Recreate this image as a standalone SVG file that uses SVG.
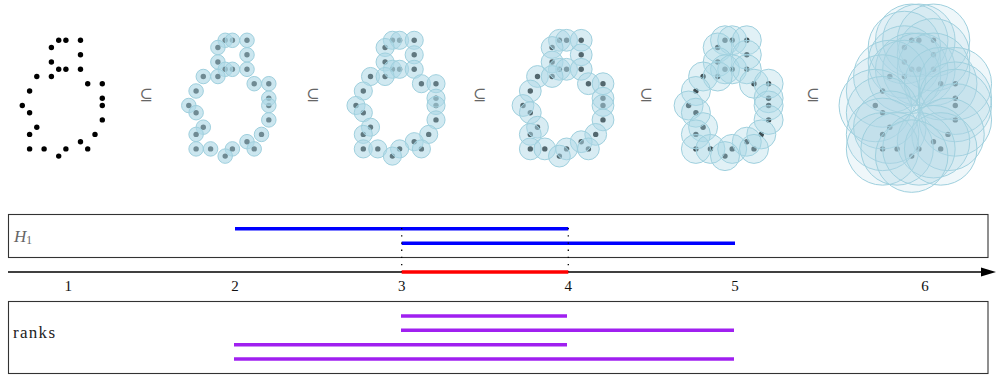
<svg xmlns="http://www.w3.org/2000/svg" xmlns:xlink="http://www.w3.org/1999/xlink" width="996" height="376" viewBox="0 0 996 376">
<style>
.b{fill:#add8e6;stroke:#9fd0de;stroke-width:1}
.p2 .b{fill-opacity:.64}
.p3 .b{fill-opacity:.56}
.p4 .b{fill-opacity:.48}
.p5 .b{fill-opacity:.36}
.p6 .b{fill-opacity:.2}
.sub{font-family:"DejaVu Serif","DejaVu Sans",serif;font-size:16px;fill:#666;text-anchor:middle}
.num{font-family:"Liberation Serif","DejaVu Serif",serif;font-size:15px;fill:#111;text-anchor:middle}
.lbl{font-family:"Liberation Serif","DejaVu Serif",serif}
.box{fill:none;stroke:#333;stroke-width:1.1}
.blue{stroke:#0000ff;stroke-width:3.4}
.pur{stroke:#a020f0;stroke-width:3.4}
</style>
<defs>
<g id="dots" fill="#000">
<circle cx="58.7" cy="40.3" r="2.7"/><circle cx="65.9" cy="40.3" r="2.7"/><circle cx="80.5" cy="40.3" r="2.7"/><circle cx="51.4" cy="47.5" r="2.7"/><circle cx="80.5" cy="54.8" r="2.7"/><circle cx="51.4" cy="62" r="2.7"/><circle cx="58.7" cy="69.3" r="2.7"/><circle cx="65.9" cy="69.3" r="2.7"/><circle cx="80.5" cy="69.3" r="2.7"/><circle cx="36.8" cy="76.5" r="2.7"/><circle cx="51.4" cy="76.5" r="2.7"/><circle cx="87.7" cy="83.7" r="2.7"/><circle cx="102.3" cy="83.7" r="2.7"/><circle cx="29.6" cy="91" r="2.7"/><circle cx="102.3" cy="98.2" r="2.7"/><circle cx="102.3" cy="105.5" r="2.7"/><circle cx="22.3" cy="105.5" r="2.7"/><circle cx="29.6" cy="112.7" r="2.7"/><circle cx="102.3" cy="119.9" r="2.7"/><circle cx="36.8" cy="127.2" r="2.7"/><circle cx="95" cy="134.4" r="2.7"/><circle cx="29.6" cy="134.4" r="2.7"/><circle cx="80.5" cy="141.7" r="2.7"/><circle cx="29.6" cy="148.9" r="2.7"/><circle cx="44.1" cy="148.9" r="2.7"/><circle cx="65.9" cy="148.9" r="2.7"/><circle cx="87.7" cy="148.9" r="2.7"/><circle cx="58.7" cy="156.1" r="2.7"/>
</g>
</defs>

<g id="panel1"><use xlink:href="#dots" href="#dots"/></g>

<g id="panel2" class="p2" transform="translate(166.5,0)">
<use xlink:href="#dots" href="#dots"/>
<circle class="b" cx="58.7" cy="40.3" r="7.25"/><circle class="b" cx="65.9" cy="40.3" r="7.25"/><circle class="b" cx="80.5" cy="40.3" r="7.25"/><circle class="b" cx="51.4" cy="47.5" r="7.25"/><circle class="b" cx="80.5" cy="54.8" r="7.25"/><circle class="b" cx="51.4" cy="62" r="7.25"/><circle class="b" cx="58.7" cy="69.3" r="7.25"/><circle class="b" cx="65.9" cy="69.3" r="7.25"/><circle class="b" cx="80.5" cy="69.3" r="7.25"/><circle class="b" cx="36.8" cy="76.5" r="7.25"/><circle class="b" cx="51.4" cy="76.5" r="7.25"/><circle class="b" cx="87.7" cy="83.7" r="7.25"/><circle class="b" cx="102.3" cy="83.7" r="7.25"/><circle class="b" cx="29.6" cy="91" r="7.25"/><circle class="b" cx="102.3" cy="98.2" r="7.25"/><circle class="b" cx="102.3" cy="105.5" r="7.25"/><circle class="b" cx="22.3" cy="105.5" r="7.25"/><circle class="b" cx="29.6" cy="112.7" r="7.25"/><circle class="b" cx="102.3" cy="119.9" r="7.25"/><circle class="b" cx="36.8" cy="127.2" r="7.25"/><circle class="b" cx="95" cy="134.4" r="7.25"/><circle class="b" cx="29.6" cy="134.4" r="7.25"/><circle class="b" cx="80.5" cy="141.7" r="7.25"/><circle class="b" cx="29.6" cy="148.9" r="7.25"/><circle class="b" cx="44.1" cy="148.9" r="7.25"/><circle class="b" cx="65.9" cy="148.9" r="7.25"/><circle class="b" cx="87.7" cy="148.9" r="7.25"/><circle class="b" cx="58.7" cy="156.1" r="7.25"/>
</g>

<g id="panel3" class="p3" transform="translate(333.7,0)">
<use xlink:href="#dots" href="#dots"/>
<circle class="b" cx="58.7" cy="40.3" r="9.06"/><circle class="b" cx="65.9" cy="40.3" r="9.06"/><circle class="b" cx="80.5" cy="40.3" r="9.06"/><circle class="b" cx="51.4" cy="47.5" r="9.06"/><circle class="b" cx="80.5" cy="54.8" r="9.06"/><circle class="b" cx="51.4" cy="62" r="9.06"/><circle class="b" cx="58.7" cy="69.3" r="9.06"/><circle class="b" cx="65.9" cy="69.3" r="9.06"/><circle class="b" cx="80.5" cy="69.3" r="9.06"/><circle class="b" cx="36.8" cy="76.5" r="9.06"/><circle class="b" cx="51.4" cy="76.5" r="9.06"/><circle class="b" cx="87.7" cy="83.7" r="9.06"/><circle class="b" cx="102.3" cy="83.7" r="9.06"/><circle class="b" cx="29.6" cy="91" r="9.06"/><circle class="b" cx="102.3" cy="98.2" r="9.06"/><circle class="b" cx="102.3" cy="105.5" r="9.06"/><circle class="b" cx="22.3" cy="105.5" r="9.06"/><circle class="b" cx="29.6" cy="112.7" r="9.06"/><circle class="b" cx="102.3" cy="119.9" r="9.06"/><circle class="b" cx="36.8" cy="127.2" r="9.06"/><circle class="b" cx="95" cy="134.4" r="9.06"/><circle class="b" cx="29.6" cy="134.4" r="9.06"/><circle class="b" cx="80.5" cy="141.7" r="9.06"/><circle class="b" cx="29.6" cy="148.9" r="9.06"/><circle class="b" cx="44.1" cy="148.9" r="9.06"/><circle class="b" cx="65.9" cy="148.9" r="9.06"/><circle class="b" cx="87.7" cy="148.9" r="9.06"/><circle class="b" cx="58.7" cy="156.1" r="9.06"/>
</g>

<g id="panel4" class="p4" transform="translate(500.7,0)">
<use xlink:href="#dots" href="#dots"/>
<circle class="b" cx="58.7" cy="40.3" r="10.9"/><circle class="b" cx="65.9" cy="40.3" r="10.9"/><circle class="b" cx="80.5" cy="40.3" r="10.9"/><circle class="b" cx="51.4" cy="47.5" r="10.9"/><circle class="b" cx="80.5" cy="54.8" r="10.9"/><circle class="b" cx="51.4" cy="62" r="10.9"/><circle class="b" cx="58.7" cy="69.3" r="10.9"/><circle class="b" cx="65.9" cy="69.3" r="10.9"/><circle class="b" cx="80.5" cy="69.3" r="10.9"/><circle class="b" cx="36.8" cy="76.5" r="10.9"/><circle class="b" cx="51.4" cy="76.5" r="10.9"/><circle class="b" cx="87.7" cy="83.7" r="10.9"/><circle class="b" cx="102.3" cy="83.7" r="10.9"/><circle class="b" cx="29.6" cy="91" r="10.9"/><circle class="b" cx="102.3" cy="98.2" r="10.9"/><circle class="b" cx="102.3" cy="105.5" r="10.9"/><circle class="b" cx="22.3" cy="105.5" r="10.9"/><circle class="b" cx="29.6" cy="112.7" r="10.9"/><circle class="b" cx="102.3" cy="119.9" r="10.9"/><circle class="b" cx="36.8" cy="127.2" r="10.9"/><circle class="b" cx="95" cy="134.4" r="10.9"/><circle class="b" cx="29.6" cy="134.4" r="10.9"/><circle class="b" cx="80.5" cy="141.7" r="10.9"/><circle class="b" cx="29.6" cy="148.9" r="10.9"/><circle class="b" cx="44.1" cy="148.9" r="10.9"/><circle class="b" cx="65.9" cy="148.9" r="10.9"/><circle class="b" cx="87.7" cy="148.9" r="10.9"/><circle class="b" cx="58.7" cy="156.1" r="10.9"/>
</g>

<g id="panel5" class="p5" transform="translate(666.3,0)">
<use xlink:href="#dots" href="#dots"/>
<circle class="b" cx="58.7" cy="40.3" r="14.5"/><circle class="b" cx="65.9" cy="40.3" r="14.5"/><circle class="b" cx="80.5" cy="40.3" r="14.5"/><circle class="b" cx="51.4" cy="47.5" r="14.5"/><circle class="b" cx="80.5" cy="54.8" r="14.5"/><circle class="b" cx="51.4" cy="62" r="14.5"/><circle class="b" cx="58.7" cy="69.3" r="14.5"/><circle class="b" cx="65.9" cy="69.3" r="14.5"/><circle class="b" cx="80.5" cy="69.3" r="14.5"/><circle class="b" cx="36.8" cy="76.5" r="14.5"/><circle class="b" cx="51.4" cy="76.5" r="14.5"/><circle class="b" cx="87.7" cy="83.7" r="14.5"/><circle class="b" cx="102.3" cy="83.7" r="14.5"/><circle class="b" cx="29.6" cy="91" r="14.5"/><circle class="b" cx="102.3" cy="98.2" r="14.5"/><circle class="b" cx="102.3" cy="105.5" r="14.5"/><circle class="b" cx="22.3" cy="105.5" r="14.5"/><circle class="b" cx="29.6" cy="112.7" r="14.5"/><circle class="b" cx="102.3" cy="119.9" r="14.5"/><circle class="b" cx="36.8" cy="127.2" r="14.5"/><circle class="b" cx="95" cy="134.4" r="14.5"/><circle class="b" cx="29.6" cy="134.4" r="14.5"/><circle class="b" cx="80.5" cy="141.7" r="14.5"/><circle class="b" cx="29.6" cy="148.9" r="14.5"/><circle class="b" cx="44.1" cy="148.9" r="14.5"/><circle class="b" cx="65.9" cy="148.9" r="14.5"/><circle class="b" cx="87.7" cy="148.9" r="14.5"/><circle class="b" cx="58.7" cy="156.1" r="14.5"/>
</g>

<g id="panel6" class="p6" transform="translate(853,0)">
<use xlink:href="#dots" href="#dots"/>
<circle class="b" cx="58.7" cy="40.3" r="36.25"/><circle class="b" cx="65.9" cy="40.3" r="36.25"/><circle class="b" cx="80.5" cy="40.3" r="36.25"/><circle class="b" cx="51.4" cy="47.5" r="36.25"/><circle class="b" cx="80.5" cy="54.8" r="36.25"/><circle class="b" cx="51.4" cy="62" r="36.25"/><circle class="b" cx="58.7" cy="69.3" r="36.25"/><circle class="b" cx="65.9" cy="69.3" r="36.25"/><circle class="b" cx="80.5" cy="69.3" r="36.25"/><circle class="b" cx="36.8" cy="76.5" r="36.25"/><circle class="b" cx="51.4" cy="76.5" r="36.25"/><circle class="b" cx="87.7" cy="83.7" r="36.25"/><circle class="b" cx="102.3" cy="83.7" r="36.25"/><circle class="b" cx="29.6" cy="91" r="36.25"/><circle class="b" cx="102.3" cy="98.2" r="36.25"/><circle class="b" cx="102.3" cy="105.5" r="36.25"/><circle class="b" cx="22.3" cy="105.5" r="36.25"/><circle class="b" cx="29.6" cy="112.7" r="36.25"/><circle class="b" cx="102.3" cy="119.9" r="36.25"/><circle class="b" cx="36.8" cy="127.2" r="36.25"/><circle class="b" cx="95" cy="134.4" r="36.25"/><circle class="b" cx="29.6" cy="134.4" r="36.25"/><circle class="b" cx="80.5" cy="141.7" r="36.25"/><circle class="b" cx="29.6" cy="148.9" r="36.25"/><circle class="b" cx="44.1" cy="148.9" r="36.25"/><circle class="b" cx="65.9" cy="148.9" r="36.25"/><circle class="b" cx="87.7" cy="148.9" r="36.25"/><circle class="b" cx="58.7" cy="156.1" r="36.25"/>
</g>

<g id="subsets">
<text class="sub" x="146" y="100">⊆</text>
<text class="sub" x="312.7" y="100">⊆</text>
<text class="sub" x="479.4" y="100">⊆</text>
<text class="sub" x="646" y="100">⊆</text>
<text class="sub" x="812.8" y="100">⊆</text>
</g>

<g id="h1-box">
<rect class="box" x="8.5" y="214.5" width="979.5" height="43"/>
<text class="lbl" x="14" y="241.5" font-size="17" font-style="italic" fill="#666">H<tspan font-size="11.5" font-style="normal" dy="2.5">1</tspan></text>
<line class="blue" x1="235" y1="228.7" x2="568.3" y2="228.7"/>
<line class="blue" x1="401.7" y1="243.3" x2="735" y2="243.3"/>
</g>

<g id="connectors">
<line x1="401.7" y1="228" x2="401.7" y2="272" stroke="#000" stroke-width="1.3" stroke-dasharray="1.3,5.9"/>
<line x1="568.3" y1="228" x2="568.3" y2="272" stroke="#000" stroke-width="1.3" stroke-dasharray="1.3,5.9"/>
</g>

<g id="axis">
<line x1="8" y1="272" x2="983" y2="272" stroke="#000" stroke-width="1.3"/>
<polygon points="996,272 981,267.5 981,276.5" fill="#000"/>
<line x1="401.7" y1="272" x2="568.3" y2="272" stroke="#ff0000" stroke-width="3.4"/>
<text class="num" x="68.3" y="291">1</text>
<text class="num" x="235" y="291">2</text>
<text class="num" x="401.7" y="291">3</text>
<text class="num" x="568.3" y="291">4</text>
<text class="num" x="735" y="291">5</text>
<text class="num" x="925" y="291">6</text>
</g>

<g id="ranks-box">
<rect class="box" x="8.5" y="301.5" width="979.5" height="72"/>
<text class="lbl" x="13" y="338.3" font-size="17" fill="#222" textLength="42" lengthAdjust="spacing">ranks</text>
<line class="pur" x1="401" y1="316" x2="567" y2="316"/>
<line class="pur" x1="401" y1="330.2" x2="734" y2="330.2"/>
<line class="pur" x1="234" y1="344.7" x2="567" y2="344.7"/>
<line class="pur" x1="234" y1="359" x2="734" y2="359"/>
</g>
</svg>
